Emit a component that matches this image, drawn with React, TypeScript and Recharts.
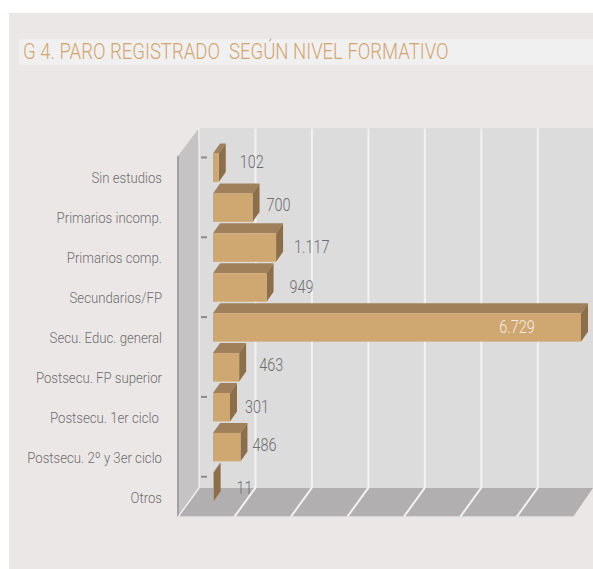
import React from 'react';
import { BarChart, Bar, XAxis, YAxis, LabelList, CartesianGrid } from 'recharts';

const categories = [
  'Sin estudios',
  'Primarios incomp.',
  'Primarios comp.',
  'Secundarios/FP',
  'Secu. Educ. general',
  'Postsecu. FP superior',
  'Postsecu. 1er ciclo\u00a0',
  'Postsecu. 2º y 3er ciclo',
  'Otros',
];
const values = [102, 700, 1117, 949, 6729, 463, 301, 486, 11];
const valueLabels = ['102', '700', '1.117', '949', '6.729', '463', '301', '486', '11'];
const gridTicks = [1000, 2000, 3000, 4000, 5000, 6000];

const data = categories.map((name, i) => ({ name, value: values[i], label: valueLabels[i] }));

const FONT = 'Roboto, sans-serif';
const DEPTH_X = 7;
const DEPTH_Y = 10;
// the long bar is cut off by the frame in the original
const MAX_BAR_WIDTH = 368;

// label placement in the original is not regular
const labelNudgeX = [21, 14, 18, 23, 0, 20, 15, 12, 23];
const labelNudgeY = [-7, -4, -2, -1, -1, -3, -1, -3, 0];

const Box3D = (props: any) => {
  const { x, y, height } = props;
  const width = Math.min(props.width, MAX_BAR_WIDTH);
  const r = x + width;
  return (
    <g>
      <polygon
        points={`${x},${y} ${x + DEPTH_X},${y - DEPTH_Y} ${r + DEPTH_X},${y - DEPTH_Y} ${r},${y}`}
        fill="#a0805a"
      />
      <polygon
        points={`${r},${y} ${r + DEPTH_X},${y - DEPTH_Y} ${r + DEPTH_X},${y + height - DEPTH_Y} ${r},${y + height}`}
        fill="#8b6f4d"
      />
      <rect x={x} y={y} width={width} height={height} fill="#cfa871" />
    </g>
  );
};

// no condensed face is installed, so squeeze a light Roboto
const NarrowText = ({ x, y, anchor, size, squeeze, fill, children }: any) => (
  <text
    transform={`translate(${x},${y}) scale(${squeeze},1)`}
    textAnchor={anchor}
    fontFamily={FONT}
    fontWeight={300}
    fontSize={size}
    fill={fill}
  >
    {children}
  </text>
);

const CategoryTick = (props: any) => {
  const { x, y, payload, index } = props;
  return (
    <g>
      {index % 2 === 0 && <rect x={x - 4} y={y - 11} width={6} height={2} fill="#8c8c8c" />}
      <NarrowText x={x - 43} y={y + 16} anchor="end" size={15.5} squeeze={0.85} fill="#6e6e6e">
        {payload.value}
      </NarrowText>
    </g>
  );
};

const ValueLabel = (props: any) => {
  const { x, y, width, height, index } = props;
  const big = values[index] > 5000;
  const right = x + Math.min(width, MAX_BAR_WIDTH);
  return (
    <NarrowText
      x={big ? right - 64 : right + labelNudgeX[index]}
      y={y + height / 2 + labelNudgeY[index] + 7}
      anchor={big ? 'middle' : 'start'}
      size={19}
      squeeze={0.76}
      fill={big ? '#f3ece2' : '#6e6e6e'}
    >
      {valueLabels[index]}
    </NarrowText>
  );
};

const Frame = () => (
  <svg width={593} height={569} style={{ position: 'absolute', left: 0, top: 0 }}>
    <rect x={199} y={128} width={394} height={360} fill="#dcdcdc" />
    <polygon points="178,156 199,128 199,488 178,517" fill="#c5c3c3" />
    <polygon points="199,488 593,488 573,517 178,517" fill="#b1afaf" />
    <line x1={199} y1={128} x2={199} y2={488} stroke="#eeeeee" strokeWidth={1.5} />
    <line x1={178} y1={156} x2={178} y2={517} stroke="#a0a3a3" strokeWidth={2} />
    <line x1={178} y1={517} x2={199} y2={488} stroke="#eeeeee" strokeWidth={1.5} />
    <line x1={178} y1={517} x2={573} y2={517} stroke="#e4e4e4" strokeWidth={1.5} />
  </svg>
);

// grid sits on the back wall and runs on across the floor
const GridLine = (props: any) => {
  const { x1, y1, y2 } = props;
  const x = x1 - 14;
  const wallT = Math.min(y1, y2) - 19;
  const wallB = Math.max(y1, y2) - 19;
  return (
    <g>
      <line x1={x} y1={wallT} x2={x} y2={wallB} stroke="#f2f2f2" strokeWidth={2} />
      <line x1={x} y1={wallB} x2={x - 21} y2={wallB + 29} stroke="#f2f2f2" strokeWidth={2} />
    </g>
  );
};

const App = () => (
  <div style={{ position: 'absolute', left: 0, top: 0, width: 593, height: 569, background: '#fff', overflow: 'hidden' }}>
    <div style={{ position: 'absolute', left: 9, top: 13, width: 584, height: 556, background: '#ece7e7' }} />
    <div
      style={{
        position: 'absolute',
        left: 19,
        top: 39,
        width: 574,
        height: 26,
        background: '#f1f0f0',
      }}
    />
    <div
      style={{
        position: 'absolute',
        left: 23,
        top: 39,
        color: '#d2a56f',
        fontFamily: FONT,
        fontWeight: 300,
        fontSize: 22,
        lineHeight: '26px',
        whiteSpace: 'pre',
        transform: 'scaleX(0.842)',
        transformOrigin: '0 0',
      }}
    >
      G 4. PARO REGISTRADO  SEGÚN NIVEL FORMATIVO
    </div>
    <Frame />
    <div style={{ position: 'absolute', left: 0, top: 0 }}>
      <BarChart
        width={593}
        height={569}
        data={data}
        layout="vertical"
        barSize={28.5}
        margin={{ top: 147.5, right: 0, bottom: 62.3, left: 0 }}
      >
        <XAxis type="number" hide domain={[0, 6729]} ticks={gridTicks} />
        <YAxis
          type="category"
          dataKey="name"
          width={213}
          axisLine={false}
          tickLine={false}
          interval={0}
          tick={<CategoryTick />}
        />
        <CartesianGrid horizontal={false} verticalValues={gridTicks} vertical={<GridLine />} />
        <Bar dataKey="value" shape={<Box3D />} isAnimationActive={false}>
          <LabelList dataKey="label" content={<ValueLabel />} />
        </Bar>
      </BarChart>
    </div>
  </div>
);

export default App;
